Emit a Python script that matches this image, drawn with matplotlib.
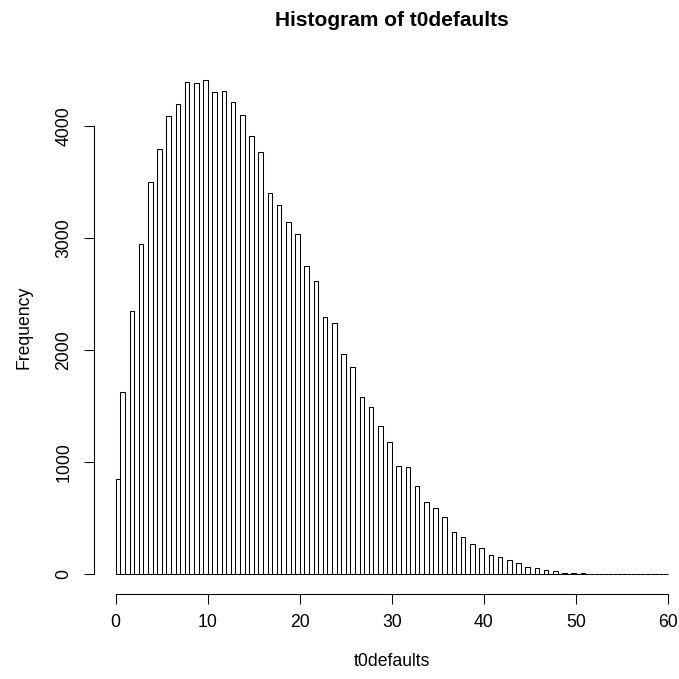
import numpy as np
import matplotlib
matplotlib.use("Agg")
import matplotlib.pyplot as plt

plt.rcParams['font.family'] = ['Liberation Sans', 'DejaVu Sans']

# Observed integer values and their frequencies
values = list(range(0, 61))
counts = [855, 1626, 2353, 2946, 3500, 3798, 4096, 4197, 4399, 4388,
          4418, 4304, 4313, 4221, 4105, 3914, 3774, 3410, 3296, 3151,
          3044, 2758, 2624, 2299, 2246, 1966, 1855, 1582, 1498, 1328,
          1185, 965, 956, 792, 649, 593, 515, 381, 336, 267,
          237, 170, 155, 128, 98, 63, 59, 41, 32, 14,
          14, 8, 5, 3, 2, 1, 1, 0, 1, 0, 1]
x_ticks = [0, 10, 20, 30, 40, 50, 60]
y_ticks = [0, 1000, 2000, 3000, 4000]
title = "Histogram of t0defaults"
xlabel = "t0defaults"
ylabel = "Frequency"

W = H = 679
fig = plt.figure(figsize=(6.79, 6.79), dpi=100)

# axes placed in pixel coordinates (R-like plot region)
left_px, right_px = 93.6, 690.1
top_px, bot_px = 59.9, 594.1
ax = fig.add_axes([left_px / W, (H - bot_px) / H,
                   (right_px - left_px) / W, (bot_px - top_px) / H])

breaks = np.arange(0, 60.5, 0.5)
# R right-closed bins: value 0 in [0,0.5], value k in (k-0.5, k]
positions = [0.25 if v == 0 else v - 0.25 for v in values]
ax.hist(positions, bins=breaks, weights=counts, histtype='bar',
        fill=False, edgecolor='black', linewidth=0.75)

ymax = max(counts)
ax.set_xlim(-0.04 * 60, 60 * 1.04)
ax.set_ylim(-0.04 * ymax, ymax * 1.04)

for s in ['top', 'right']:
    ax.spines[s].set_visible(False)
ax.spines['left'].set_bounds(0, 4000)
ax.spines['bottom'].set_bounds(0, 60)
ax.spines['left'].set_linewidth(0.75)
ax.spines['bottom'].set_linewidth(0.75)

ax.set_xticks(x_ticks)
ax.set_yticks(y_ticks)
ax.set_yticklabels([str(t) for t in y_ticks], rotation=90, va='center')
ax.tick_params(axis='both', direction='out', length=7.2, width=0.75,
               labelsize=12.7, colors='black')
ax.tick_params(axis='x', pad=7)
ax.tick_params(axis='y', pad=8)

cx = (left_px + right_px) / 2 / W
fig.text(cx, 1 - 20 / H, title, ha='center', va='center',
         fontsize=15, fontweight='bold')
fig.text(cx, 1 - 662 / H, xlabel, ha='center', va='center', fontsize=12.7)
fig.text(24 / W, 1 - ((top_px + bot_px) / 2) / H, ylabel, ha='center',
         va='center', rotation=90, fontsize=12.7)

fig.savefig("out.png", dpi=100)
